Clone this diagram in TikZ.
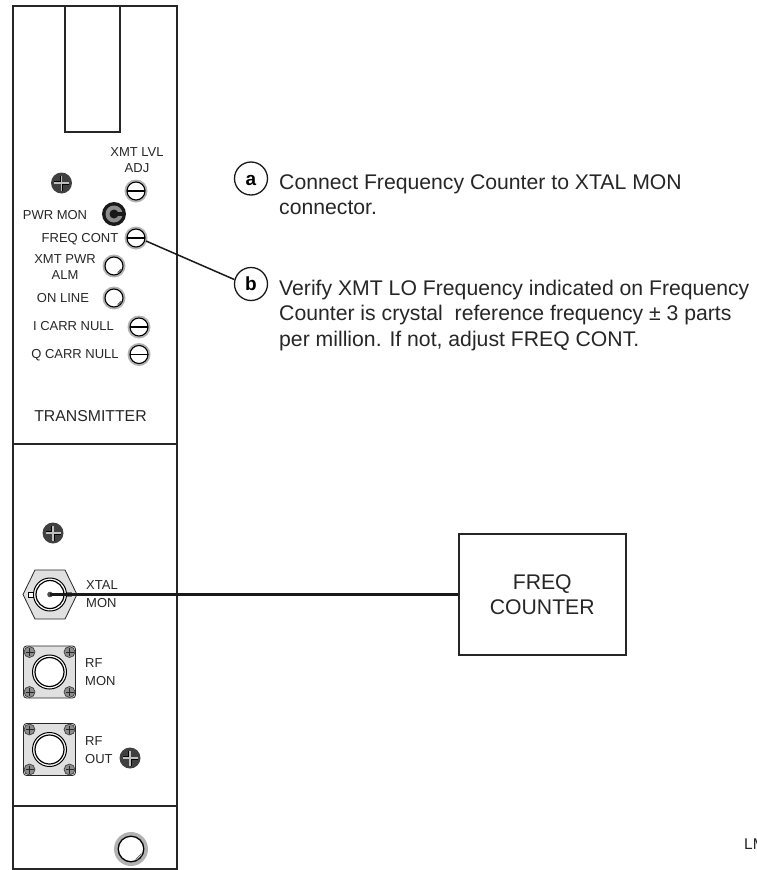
\documentclass[tikz,border=0pt]{standalone}
\usepackage{fontspec}
\setmainfont{Liberation Sans}
\newcommand{\lblfont}{\fontsize{13}{16}\selectfont}
\newcommand{\txtfont}{\fontsize{21.2}{25.5}\selectfont}
\tikzset{
  x=1pt,y=-1pt,
  lbl/.style={font=\lblfont,text=black!85,align=center,inner sep=0pt},
  conlbl/.style={font=\fontsize{13}{18}\selectfont,text=black!85,align=left,anchor=west,inner sep=0pt},
  body/.style={font=\txtfont,text=black!85,align=left,anchor=north west,inner sep=0pt},
  callout/.style={circle,draw=black!90,line width=1.3pt,minimum size=33pt,inner sep=0pt,text height=13pt,text depth=0pt,font=\fontsize{19}{21}\selectfont\bfseries},
  panel/.style={draw=black!85,line width=2pt},
  wire/.style={draw=black!90,line width=1.5pt},
  screwhead/.pic={
    \fill[black!75] (0,0) circle (10.5);
    \draw[black!25,line width=1.6pt] (-7.5,0)--(7.5,0) (0,-7.5)--(0,7.5);
    \draw[black,line width=.7pt] (-7.5,-1.2)--(-1.2,-1.2)--(-1.2,-7.5) (7.5,1.2)--(1.2,1.2)--(1.2,7.5);
  },
  trimpot/.pic={
    \fill[black!30] (0,0) circle (11.5);
    \draw[black,fill=white,line width=1.1pt] (0,0) circle (9);
    \draw[black,line width=1.1pt] (-9,0)--(9,0);
  },
  lamp/.pic={
    \fill[black!30] (0,0) circle (11.5);
    \draw[black,fill=white,line width=1.1pt] (0,0) circle (9);
    \draw[black!70,line width=.5pt] (3.5,6.5)--(7,3) (4.5,7)--(8,3.5);
  },
  bigknob/.pic={
    \fill[black!30] (0,0) circle (17);
    \draw[black,fill=white,line width=1.3pt] (0,0) circle (12.8);
    \draw[black!70,line width=.5pt] (4.5,10.5)--(10.5,4.5) (6,11)--(11,6);
  },
  jack/.pic={
    \fill[black!90] (0,0) circle (12);
    \fill[black!45] (0,0) circle (8.5);
    \fill[black!90] (0,0) circle (4.5);
    \fill[black!90] (0,-2.2) rectangle (9,2.2);
  },
  sqconn/.pic={
    \draw[black!85,fill=black!12,rounded corners=3pt,line width=.8pt] (-26,-26) rectangle (26,26);
    \foreach \a/\b in {-20/-20,20/-20,-20/20,20/20}{
      \draw[black!80,fill=black!45,line width=.6pt] (\a,\b) circle (5.5);
      \draw[black!85,line width=.6pt] (\a-4,\b)--(\a+4,\b) (\a,\b-4)--(\a,\b+4);
    }
    \draw[black,fill=white,line width=1pt] (0,0) circle (17);
    \draw[black,line width=1.2pt] (0,0) circle (14.5);
  },
  hexconn/.pic={
    \draw[black!85,fill=black!12,line width=.8pt] (-27,0)--(-15,-24.5)--(15,-24.5)--(27,0)--(15,24.5)--(-15,24.5)--cycle;
    \draw[black,fill=white,line width=.6pt] (-22,-2.5) rectangle (-15,2.5);
    \fill[black!55] (15,-2.5) rectangle (22,2.5);
    \draw[black,fill=white,line width=1pt] (0,0) circle (16.5);
    \draw[black,line width=1.2pt] (0,0) circle (14);
    \fill[black!70] (0,0) circle (2.8);
  }
}
\begin{document}
\begin{tikzpicture}
\useasboundingbox (0,0) rectangle (756,870);
\clip (0,0) rectangle (756,870);
% panel
\draw[panel] (12.5,6)--(12.5,870) (176.5,6)--(176.5,870);
\draw[panel,line cap=rect] (12.5,6)--(176.5,6);
\draw[panel] (12.5,444)--(176.5,444);
\draw[panel] (12.5,806)--(176.5,806);
\draw[panel,line width=1.2pt] (12.5,869)--(176.5,869);
\draw[panel] (64.5,6)--(64.5,132)--(119.5,132)--(119.5,6);
% controls
\pic at (61.5,183) {screwhead};
\pic at (136,191) {trimpot};
\pic at (114,214) {jack};
\pic at (136,238) {trimpot};
\pic at (114,266) {lamp};
\pic at (114,298) {lamp};
\pic at (139,327) {trimpot};
\pic at (139,354.5) {trimpot};
\pic at (53,533) {screwhead};
\pic at (50,594.5) {hexconn};
\pic at (49.5,672) {sqconn};
\pic at (49.5,749.5) {sqconn};
\pic at (130,758) {screwhead};
\pic at (131,849) {bigknob};
\coordinate (fc) at (146,241);
\coordinate (xm) at (50,594.5);
% labels
\node[lbl] (l1) at (137,160) {XMT LVL\\ADJ};
\node[lbl] (l2) at (55,215) {PWR MON};
\node[lbl,anchor=east] (l3) at (118.5,239) {FREQ CONT};
\node[lbl] (l4) at (65,267) {XMT PWR\\ALM};
\node[lbl] (l5) at (63,298) {ON LINE};
\node[lbl] (l6) at (73.5,326) {I CARR NULL};
\node[lbl] (l7) at (75,355) {Q CARR NULL};
\node[lbl,font=\fontsize{15.8}{18}\selectfont] (l8) at (90.5,416) {TRANSMITTER};
\node[conlbl] (l9) at (86,594) {XTAL\\MON};
\node[conlbl] (l10) at (85,672) {RF\\MON};
\node[conlbl] (l11) at (85,750) {RF\\OUT};
% callouts
\node[callout] (a) at (251,178.5) {a};
\node[callout] (b) at (251,284) {b};
\node[body] (ta) at (279,174) {Connect Frequency Counter to XTAL MON\\connector.};
\node[body] (tb) at (279,279.5) {Verify XMT LO Frequency indicated on Frequency\\Counter is crystal\ \ reference frequency ± 3 parts\\per million. If not, adjust FREQ CONT.};
% counter
\node[draw=black!85,line width=2pt,minimum width=167.5pt,minimum height=121pt,inner sep=0pt,align=center,font=\txtfont,text=black!85] (ctr) at (542.25,594.5) {FREQ\\COUNTER};
% connectors
\draw[wire] (fc)--(b.165);
\draw[wire,line width=2.4pt] (xm)--(xm-|ctr.west);
\node[font=\fontsize{15.5}{18}\selectfont,text=black!85,anchor=base west,inner sep=0pt] (lm) at (744,849) {LM};
\end{tikzpicture}
\end{document}
